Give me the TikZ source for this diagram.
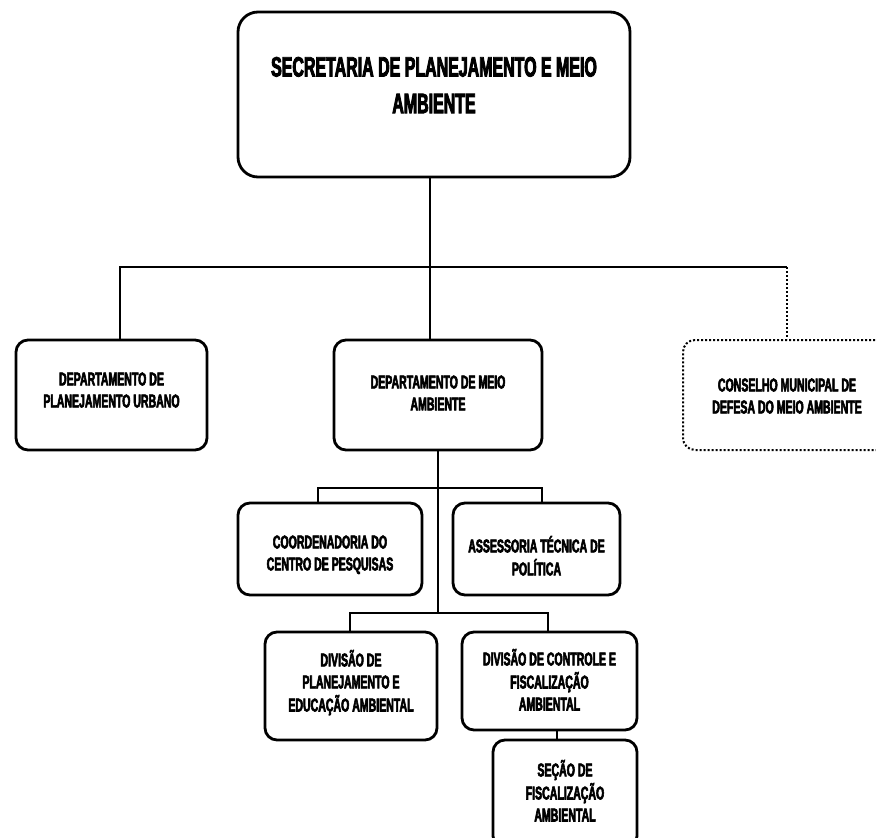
\documentclass[tikz,border=0pt]{standalone}
\usepackage{fontspec}
\setmainfont{Liberation Sans}[FakeStretch=0.57, BoldFeatures={FakeBold=3}]
% centred lines of a box, moved up (+) or down (-) by #1 without changing the box
\newcommand{\boxtext}[2]{\raisebox{#1}[\height][\depth]{\begin{tabular}{@{}c@{}}#2\end{tabular}}}
\begin{document}
\begin{tikzpicture}[x=1pt,y=-1pt,
  unit/.style={draw, line width=2.8pt, rounded corners=12pt,
    font=\fontsize{18.5}{22}\selectfont\bfseries, inner sep=0pt},
  councilbox/.style={unit, line width=2pt, dash pattern=on 2pt off 2pt},
  link/.style={line width=2pt},
  dottedlink/.style={line width=2pt, dash pattern=on 2pt off 2pt}]
\useasboundingbox (0,0) rectangle (876,838);
\clip (0,0) rectangle (876,838);

% boxes
\node[unit, rounded corners=20pt, minimum width=392pt, minimum height=165pt,
  font=\fontsize{28}{36.6}\selectfont\bfseries] (sec) at (434,94.5)
  {\boxtext{7pt}{SECRETARIA DE PLANEJAMENTO E MEIO\\AMBIENTE}};
\node[unit, minimum width=191pt, minimum height=110pt] (dpu) at (111.5,395)
  {\boxtext{3pt}{DEPARTAMENTO DE\\PLANEJAMENTO URBANO}};
\node[unit, minimum width=208pt, minimum height=110pt] (dma) at (438,395)
  {\boxtext{0pt}{DEPARTAMENTO DE MEIO\\AMBIENTE}};
\node[councilbox, minimum width=208pt, minimum height=110pt] (cons) at (787,395)
  {\boxtext{-3pt}{CONSELHO MUNICIPAL DE\\DEFESA DO MEIO AMBIENTE}};
\node[unit, minimum width=184pt, minimum height=92pt] (ccp) at (330,549)
  {\boxtext{-6pt}{COORDENADORIA DO\\CENTRO DE PESQUISAS}};
\node[unit, minimum width=167pt, minimum height=92pt] (atp) at (536.5,549)
  {\boxtext{-10pt}{ASSESSORIA TÉCNICA DE\\POLÍTICA}};
\node[unit, minimum width=172pt, minimum height=108pt] (dpe) at (351,686)
  {\boxtext{2pt}{DIVISÃO DE\\PLANEJAMENTO E\\EDUCAÇÃO AMBIENTAL}};
\node[unit, minimum width=175pt, minimum height=98pt] (dcf) at (549.5,681)
  {\boxtext{-2pt}{DIVISÃO DE CONTROLE E\\FISCALIZAÇÃO\\AMBIENTAL}};
\node[unit, minimum width=144pt, minimum height=108pt] (sfa) at (565,794)
  {\boxtext{0pt}{SEÇÃO DE\\FISCALIZAÇÃO\\AMBIENTAL}};

% connector junctions
\coordinate (busmid) at (430,267);
\coordinate (busleft) at (120,267);
\coordinate (busright) at (787,267);
\coordinate (spine) at (438,450);
\coordinate (midleft) at (318,488);
\coordinate (midright) at (542,488);
\coordinate (lowbus) at (438,613);
\coordinate (lowleft) at (350,613);
\coordinate (lowright) at (548,613);
\coordinate (secline) at (557,735);

% connectors
\draw[link] (sec.south -| busmid) -- (busmid);
\draw[link] (dpu.north -| busleft) -- (busleft) -- (busright);
\draw[dottedlink] (busright) -- (cons.north);
\draw[link] (busmid) -- (dma.north -| busmid);
\draw[link] (dma.south -| spine) -- (lowbus);
\draw[link] (ccp.north -| midleft) -- (midleft) -- (midright) -- (atp.north -| midright);
\draw[link] (dpe.north -| lowleft) -- (lowleft) -- (lowright) -- (dcf.north -| lowright);
\draw[link] (dcf.south -| secline) -- (sfa.north -| secline);
\end{tikzpicture}
\end{document}
